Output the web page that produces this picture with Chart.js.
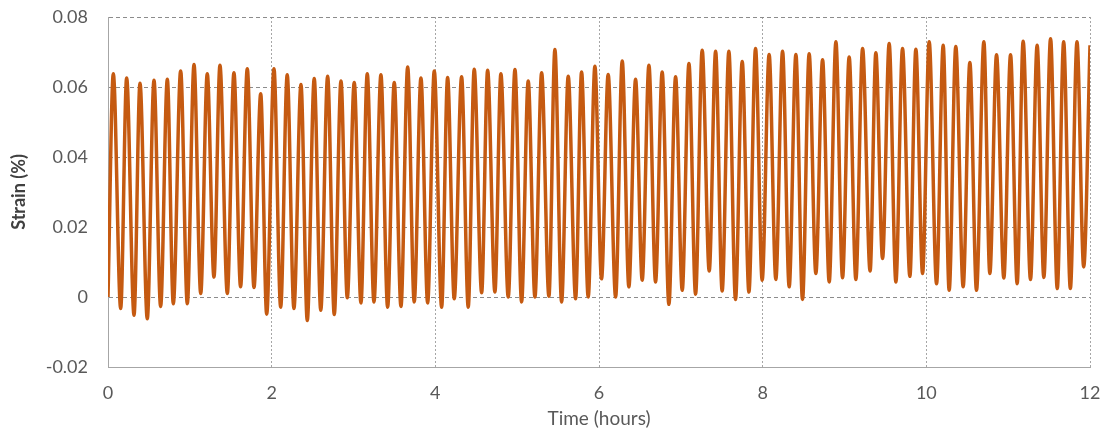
<!DOCTYPE html>
<html>
<head>
<meta charset="utf-8">
<script src="https://cdn.jsdelivr.net/npm/chart.js@4.4.1/dist/chart.umd.min.js"></script>
<style>
  html, body { margin: 0; padding: 0; background: #fff; }
  #wrap { width: 1111px; height: 434px; }
</style>
</head>
<body>
<div id="wrap"><canvas id="chart" width="1111" height="434"></canvas></div>
<script>
const startPoint = [0, 0];
const endPoint = [12, 0.0719];

const peakHours = [0.065, 0.228, 0.391, 0.562, 0.725, 0.888, 1.051, 1.213, 1.368, 1.539,
  1.702, 1.866, 2.028, 2.19, 2.358, 2.52, 2.684, 2.847, 3.009, 3.168,
  3.335, 3.498, 3.662, 3.824, 3.987, 4.15, 4.321, 4.475, 4.639, 4.801,
  4.973, 5.135, 5.299, 5.461, 5.624, 5.787, 5.95, 6.112, 6.284, 6.447,
  6.61, 6.772, 6.936, 7.099, 7.261, 7.425, 7.587, 7.75, 7.913, 8.079,
  8.243, 8.406, 8.568, 8.732, 8.895, 9.057, 9.221, 9.383, 9.546, 9.709,
  9.872, 10.035, 10.206, 10.36, 10.532, 10.703, 10.858, 11.029, 11.183, 11.354,
  11.518, 11.678, 11.841];
const peakStrain = [0.0638, 0.0626, 0.0611, 0.0619, 0.0622, 0.0646, 0.0664, 0.0638, 0.0662, 0.0641,
  0.0652, 0.0581, 0.0652, 0.0635, 0.0607, 0.0624, 0.0631, 0.0617, 0.0613, 0.0638,
  0.0635, 0.0613, 0.0657, 0.0626, 0.0646, 0.0627, 0.0629, 0.0651, 0.0648, 0.0638,
  0.065, 0.0617, 0.0641, 0.0707, 0.0631, 0.0643, 0.0659, 0.0636, 0.0674, 0.0622,
  0.0662, 0.0643, 0.0629, 0.0667, 0.0705, 0.0702, 0.0702, 0.0673, 0.071, 0.0693,
  0.0702, 0.0693, 0.0695, 0.0678, 0.0729, 0.0686, 0.071, 0.0698, 0.0724, 0.071,
  0.0708, 0.0729, 0.0719, 0.0716, 0.067, 0.0729, 0.0692, 0.0692, 0.0731, 0.0719,
  0.0738, 0.0729, 0.0729];

const troughHours = [0.155, 0.318, 0.48, 0.643, 0.798, 0.969, 1.133, 1.295, 1.458, 1.62,
  1.784, 1.939, 2.11, 2.272, 2.435, 2.6, 2.765, 2.924, 3.091, 3.25,
  3.417, 3.58, 3.742, 3.906, 4.077, 4.231, 4.402, 4.566, 4.728, 4.891,
  5.054, 5.217, 5.388, 5.543, 5.714, 5.868, 6.031, 6.203, 6.365, 6.528,
  6.691, 6.854, 7.017, 7.18, 7.347, 7.505, 7.668, 7.832, 7.994, 8.161,
  8.324, 8.487, 8.65, 8.813, 8.976, 9.139, 9.313, 9.465, 9.628, 9.799,
  9.954, 10.125, 10.279, 10.45, 10.613, 10.776, 10.947, 11.11, 11.273, 11.436,
  11.6, 11.76, 11.923];
const troughStrain = [-0.0033, -0.0052, -0.0062, -0.0027, -0.0019, -0.0019, 0.001, 0.0057, 0.001, 0.0029,
  0.0027, -0.0049, -0.0029, -0.0033, -0.0067, -0.0038, -0.005, -0.0002, -0.0017, -0.0014,
  -0.0029, -0.0027, -0.0014, -0.0017, -0.0029, -0.0005, -0.0029, 0.0012, 0.0014, 0,
  -0.0014, 0, 0.0002, -0.0014, -0.0005, 0, 0.0052, 0, 0.0029, 0.0048,
  0.0043, -0.0021, 0.0019, 0.0008, 0.0074, 0.0017, -0.0007, 0.0014, 0.0048, 0.005,
  0.0029, -0.0007, 0.0067, 0.0043, 0.0055, 0.005, 0.0074, 0.011, 0.0043, 0.0059,
  0.0067, 0.0038, 0.0019, 0.0029, 0.0019, 0.0067, 0.0054, 0.0038, 0.005, 0.0056,
  0.0024, 0.0024, 0.0086];

const xTicks = [0, 2, 4, 6, 8, 10, 12];
const yTicks = [-0.02, 0, 0.02, 0.04, 0.06, 0.08];
const yTickLabels = ["-0.02", "0", "0.02", "0.04", "0.06", "0.08"];

const points = [{ x: startPoint[0], y: startPoint[1] }];
peakHours.forEach((h, i) => points.push({ x: h, y: peakStrain[i] }));
troughHours.forEach((h, i) => points.push({ x: h, y: troughStrain[i] }));
points.push({ x: endPoint[0], y: endPoint[1] });
points.sort((a, b) => a.x - b.x);

const family = "Lato, 'Open Sans', sans-serif";
const tickFont = { family: family, size: 18 };

new Chart(document.getElementById("chart"), {
  type: "line",
  data: {
    datasets: [
      {
        label: "Strain",
        data: points,
        borderColor: "#C55A11",
        borderWidth: 3.5,
        pointRadius: 0,
        cubicInterpolationMode: "monotone",
        fill: false
      }
    ]
  },
  options: {
    responsive: false,
    animation: false,
    layout: { padding: { left: 0, right: 21, top: 17, bottom: 0 } },
    plugins: {
      legend: { display: false },
      tooltip: { enabled: false }
    },
    scales: {
      x: {
        type: "linear",
        min: 0,
        max: 12,
        afterBuildTicks: (axis) => {
          axis.ticks = xTicks.map((v) => ({ value: v }));
        },
        afterFit: (axis) => {
          axis.height = 67;
          axis.paddingLeft = 0;
          axis.paddingRight = 0;
        },
        ticks: {
          color: "#595959",
          font: tickFont,
          padding: 15,
          maxRotation: 0,
          callback: (v) => String(v)
        },
        grid: {
          color: "#A6A6A6",
          lineWidth: 1,
          drawTicks: false
        },
        border: { display: true, color: "#A6A6A6", dash: [2, 2] },
        title: {
          display: true,
          text: "Time (hours)",
          color: "#595959",
          font: { family: family, size: 19 },
          padding: { top: 0, bottom: 4 }
        }
      },
      y: {
        min: -0.02,
        max: 0.08,
        afterBuildTicks: (axis) => {
          axis.ticks = yTicks.map((v) => ({ value: v }));
        },
        afterFit: (axis) => {
          axis.width = 108;
          axis.paddingTop = 0;
          axis.paddingBottom = 0;
        },
        ticks: {
          color: "#595959",
          font: tickFont,
          padding: 20,
          callback: (v) => yTickLabels[yTicks.findIndex((t) => Math.abs(t - v) < 1e-9)]
        },
        grid: {
          color: "#8C8C8C",
          lineWidth: 1,
          drawTicks: false
        },
        border: { display: true, color: "#A6A6A6", dash: [4, 3] },
        title: {
          display: true,
          text: "Strain (%)",
          color: "#404040",
          font: { family: family, size: 18, weight: "bold" },
          padding: { top: 8, bottom: 0 }
        }
      }
    }
  }
});
</script>
</body>
</html>
